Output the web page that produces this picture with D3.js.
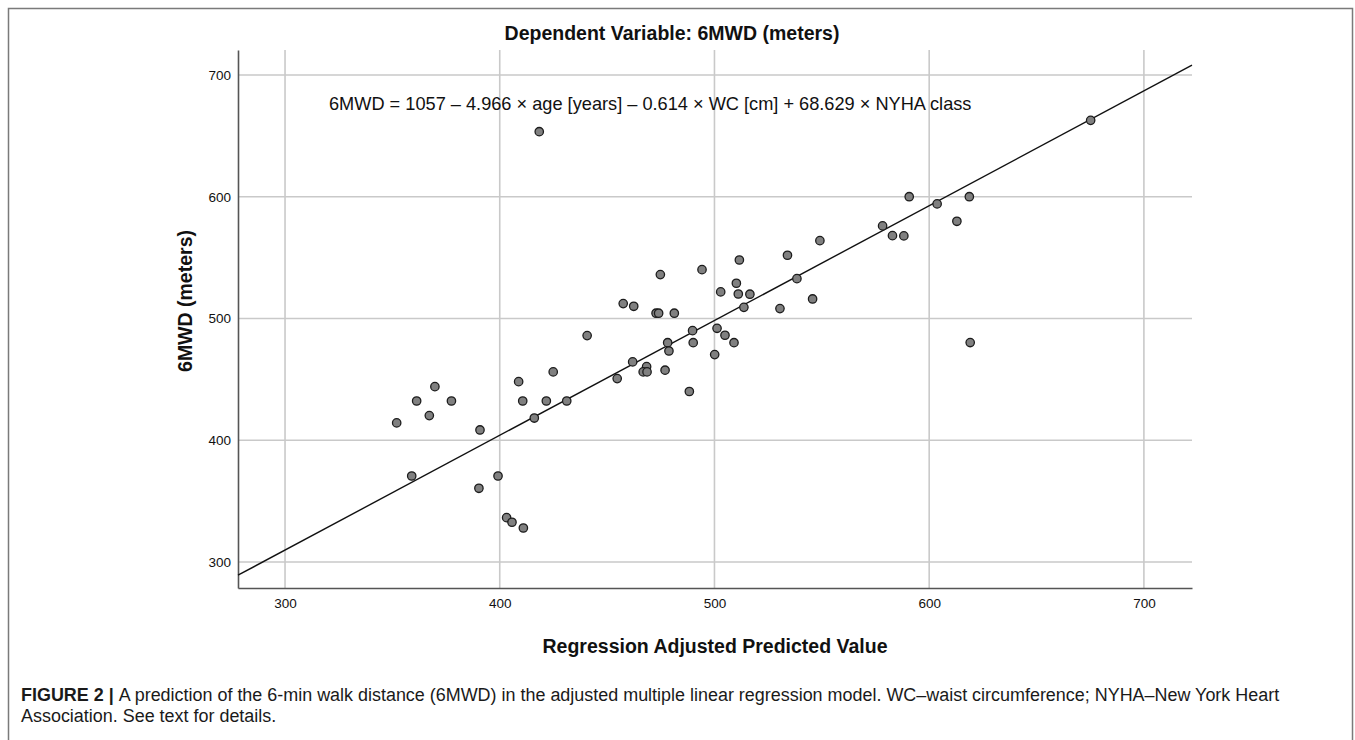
<!DOCTYPE html>
<html>
<head>
<meta charset="utf-8">
<title>6MWD regression</title>
<script src="https://cdn.jsdelivr.net/npm/d3@7"></script>
<style>
    body { margin: 0; background: #fff; }
    #svg { display: block; font-family: 'Liberation Sans', Arial, Helvetica, sans-serif; }
</style>
</head>
<body>
<div id="content"></div>
<script>
// =================================================================
// = 6MWD vs regression adjusted predicted value (scatter + fit line)
// =================================================================

// x = regression adjusted predicted value, y = measured 6MWD (meters)
let predicted = [352.0, 361.3, 369.8, 367.2, 377.5, 390.8, 359.0, 390.3, 399.2, 403.2,
    405.7, 411.0, 408.8, 410.7, 421.7, 424.9, 416.1, 431.2, 440.7, 454.7,
    461.9, 468.4, 466.8, 468.6, 477.0, 478.2, 478.8, 457.5, 462.4, 472.8,
    474.0, 481.3, 474.8, 494.2, 502.9, 510.2, 511.6, 511.1, 501.2, 504.9,
    509.1, 489.8, 490.1, 418.4, 675.2, 590.7, 588.2, 603.7, 612.9, 618.7,
    619.1, 488.3, 500.1, 516.5, 513.7, 530.5, 534.0, 538.4, 545.7, 549.1,
    578.3, 582.9];
let distance = [414.2, 432.2, 444.0, 420.2, 432.2, 408.4, 370.6, 360.5, 370.6, 336.4,
    332.6, 327.9, 448.1, 432.2, 432.2, 456.1, 418.2, 432.2, 485.9, 450.6,
    464.3, 460.4, 456.1, 456.1, 457.5, 480.1, 473.3, 512.2, 510.0, 504.3,
    504.3, 504.3, 536.0, 540.1, 521.8, 528.9, 548.0, 520.1, 491.9, 486.2,
    480.1, 490.0, 480.1, 653.4, 662.7, 600.0, 567.8, 594.1, 579.8, 600.0,
    480.2, 440.0, 470.3, 519.9, 509.1, 508.1, 551.9, 532.7, 516.0, 563.9,
    576.0, 568.0];

// fit line end points
let fitX = [278.1, 722.4];
let fitY = [289.1, 708.0];

// axis ranges and ticks
let xDomain = [278.1, 722.4];
let yDomain = [278.6, 720.5];
let xTicks = [300, 400, 500, 600, 700];
let yTicks = [300, 400, 500, 600, 700];

// texts
let titleText = 'Dependent Variable: 6MWD (meters)';
let equationText = '6MWD = 1057 \u2013 4.966 \u00d7 age [years] \u2013 0.614 \u00d7 WC [cm] + 68.629 \u00d7 NYHA class';
let xLabel = 'Regression Adjusted Predicted Value';
let yLabel = '6MWD (meters)';
let captionBold = 'FIGURE 2 | ';
let captionLine1 = 'A prediction of the 6-min walk distance (6MWD) in the adjusted multiple linear regression model. WC\u2013waist circumference; NYHA\u2013New York Heart';
let captionLine2 = 'Association. See text for details.';

const width = 1355, height = 740;
let plot = {left: 238, right: 1192, top: 50, bottom: 588};

let svg, x, y;

document.addEventListener('DOMContentLoaded', function() {
    svg = d3.select('#content').append('svg')
        .attr('id', 'svg')
        .attr('width', width)
        .attr('height', height);

    x = d3.scaleLinear().domain(xDomain).range([plot.left, plot.right]);
    y = d3.scaleLinear().domain(yDomain).range([plot.bottom, plot.top]);

    drawFrame();
    drawGrid();
    drawAxes();
    drawPoints();
    drawText();
    drawCaption();
});

function drawFrame() {
    // grey box around the whole figure (bottom edge runs off the page)
    svg.append('rect')
        .attr('x', 8.5).attr('y', 8.5)
        .attr('width', 1344).attr('height', 760)
        .attr('fill', 'none')
        .attr('stroke', '#7a7a7a')
        .attr('stroke-width', 1.5);
}

function drawGrid() {
    let g = svg.append('g').attr('class', 'grid');

    g.selectAll('.vgrid')
        .data(xTicks)
        .join('line')
        .attr('class', 'vgrid')
        .attr('x1', d => x(d)).attr('x2', d => x(d))
        .attr('y1', plot.top).attr('y2', plot.bottom)
        .attr('stroke', '#c9c9c9')
        .attr('stroke-width', 1.6);

    g.selectAll('.hgrid')
        .data(yTicks)
        .join('line')
        .attr('class', 'hgrid')
        .attr('x1', plot.left).attr('x2', plot.right)
        .attr('y1', d => y(d)).attr('y2', d => y(d))
        .attr('stroke', '#c9c9c9')
        .attr('stroke-width', 1.6);
}

function drawAxes() {
    let xAxis = d3.axisBottom(x).tickValues(xTicks).tickSize(0).tickPadding(10);
    let yAxis = d3.axisLeft(y).tickValues(yTicks).tickSize(0).tickPadding(7);

    let gx = svg.append('g')
        .attr('transform', `translate(0,${plot.bottom})`)
        .call(xAxis);
    let gy = svg.append('g')
        .attr('transform', `translate(${plot.left},0)`)
        .call(yAxis);

    // style both axes like the SPSS output
    [gx, gy].forEach(function(g) {
        g.select('.domain')
            .attr('stroke', '#555')
            .attr('stroke-width', 1.6);
        g.selectAll('text')
            .attr('font-family', "'Liberation Sans', Arial, sans-serif")
            .attr('font-size', 13.5)
            .attr('fill', '#111');
    });
}

function drawPoints() {
    // fit line first, then the markers on top
    let line = d3.line()
        .x(d => x(d[0]))
        .y(d => y(d[1]));

    svg.append('path')
        .datum(d3.zip(fitX, fitY))
        .attr('d', line)
        .attr('fill', 'none')
        .attr('stroke', '#111')
        .attr('stroke-width', 1.4);

    svg.append('g')
        .selectAll('circle')
        .data(d3.zip(predicted, distance))
        .join('circle')
        .attr('cx', d => x(d[0]))
        .attr('cy', d => y(d[1]))
        .attr('r', 4.2)
        .attr('fill', '#808080')
        .attr('stroke', '#1c1c1c')
        .attr('stroke-width', 1.3);
}

function drawText() {
    svg.append('text')
        .attr('x', 672)
        .attr('y', 40)
        .attr('text-anchor', 'middle')
        .attr('font-size', 19.5)
        .attr('font-weight', 'bold')
        .attr('fill', '#111')
        .text(titleText);

    svg.append('text')
        .attr('x', 329)
        .attr('y', 109.5)
        .attr('font-size', 18.2)
        .attr('fill', '#111')
        .text(equationText);

    svg.append('text')
        .attr('x', (plot.left + plot.right) / 2)
        .attr('y', 653)
        .attr('text-anchor', 'middle')
        .attr('font-size', 19.5)
        .attr('font-weight', 'bold')
        .attr('fill', '#111')
        .text(xLabel);

    svg.append('text')
        .attr('transform', 'translate(192,301) rotate(-90)')
        .attr('text-anchor', 'middle')
        .attr('font-size', 19.5)
        .attr('font-weight', 'bold')
        .attr('fill', '#111')
        .text(yLabel);
}

function drawCaption() {
    let cap = svg.append('g').attr('fill', '#1a1a1a');

    let line1 = cap.append('text')
        .attr('x', 21)
        .attr('y', 701)
        .attr('font-size', 16);
    line1.append('tspan').attr('font-weight', 'bold').text(captionBold);
    line1.append('tspan').text(captionLine1);

    let line2 = cap.append('text')
        .attr('x', 21)
        .attr('y', 722)
        .attr('font-size', 16)
        .text(captionLine2);

    // scale the caption so the first line ends where it does in the figure
    let w = line1.node().getComputedTextLength();
    let size = 16 * 1259 / w;
    line1.attr('font-size', size);
    line2.attr('font-size', size);
}
</script>
</body>
</html>
